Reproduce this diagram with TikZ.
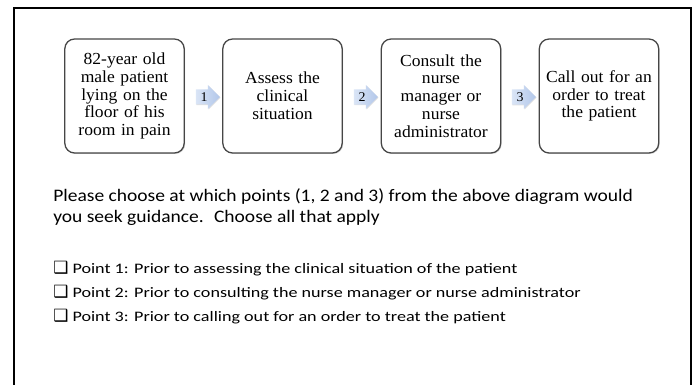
\documentclass[tikz,border=0pt]{standalone}
\usepackage{fontspec}
\usetikzlibrary{shapes.arrows,shadows}

\newfontfamily\stagefont[FakeStretch=1.04]{Liberation Serif}
\newfontfamily\questionfont[FakeStretch=1.11]{Carlito}
\newfontfamily\choicefont[FakeStretch=1.25]{Carlito}
\newfontfamily\boxsymfont{DejaVu Sans}
\definecolor{edgegray}{RGB}{70,70,70}
\definecolor{arrowlight}{RGB}{218,229,246}
\definecolor{arrowdark}{RGB}{178,199,234}

\begin{document}
\begin{tikzpicture}[
    x=0.025cm, y=-0.025cm,
    stage/.style={draw=edgegray, line width=0.9pt, rounded corners=7pt, fill=white,
        minimum width=2.875cm, minimum height=2.85cm, text width=2.75cm, align=center,
        font=\stagefont\fontsize{12}{12.7}\selectfont,
        drop shadow={opacity=0.35, shadow xshift=0.7pt, shadow yshift=-0.7pt}},
    stepnum/.style={single arrow, single arrow head extend=0.11cm, minimum height=0.6cm,
        inner sep=2pt, left color=arrowlight, right color=arrowdark,
        font=\stagefont\fontsize{9.5}{9.5}\selectfont,
        drop shadow={opacity=0.25, shadow xshift=0.5pt, shadow yshift=-0.5pt}},
    choice/.style={anchor=base west, inner sep=0, font=\choicefont\fontsize{10.3}{12}\selectfont}
]
\useasboundingbox (0,0) rectangle (696,385);

% Frame
\draw[line width=1.6pt] (14,395) -- (14,8) -- (691,8) -- (691,395);

% Stages
\node[stage] (s1) at (124.5,96) {82-year old\\male patient\\lying on the\\floor of his\\room in pain};
\node[stage] (s2) at (282.5,96) {Assess the\\clinical\\situation};
\node[stage] (s3) at (441,96) {Consult the\\nurse\\manager or\\nurse\\administrator};
\node[stage] (s4) at (599,96) {Call out for an\\order to treat\\the patient};

% Points
\node[stepnum] (n1) at (204,97) {1};
\node[stepnum] (n2) at (362,97) {2};
\node[stepnum] (n3) at (520,97) {3};

% Question
\node[anchor=north west, inner sep=0, align=left, font=\questionfont\fontsize{12.5}{14.9}\selectfont]
    (question) at (53,188) {Please choose at which points (1, 2 and 3) from the above diagram would\\you seek guidance.~ Choose all that apply};

% Choices
\node[choice] (c1) at (53,274) {{\boxsymfont\fontsize{12}{12}\selectfont ❑}\ Point 1: Prior to assessing the clinical situation of the patient};
\node[choice] (c2) at (53,298) {{\boxsymfont\fontsize{12}{12}\selectfont ❑}\ Point 2: Prior to consulting the nurse manager or nurse administrator};
\node[choice] (c3) at (53,322) {{\boxsymfont\fontsize{12}{12}\selectfont ❑}\ Point 3: Prior to calling out for an order to treat the patient};

\end{tikzpicture}
\end{document}
